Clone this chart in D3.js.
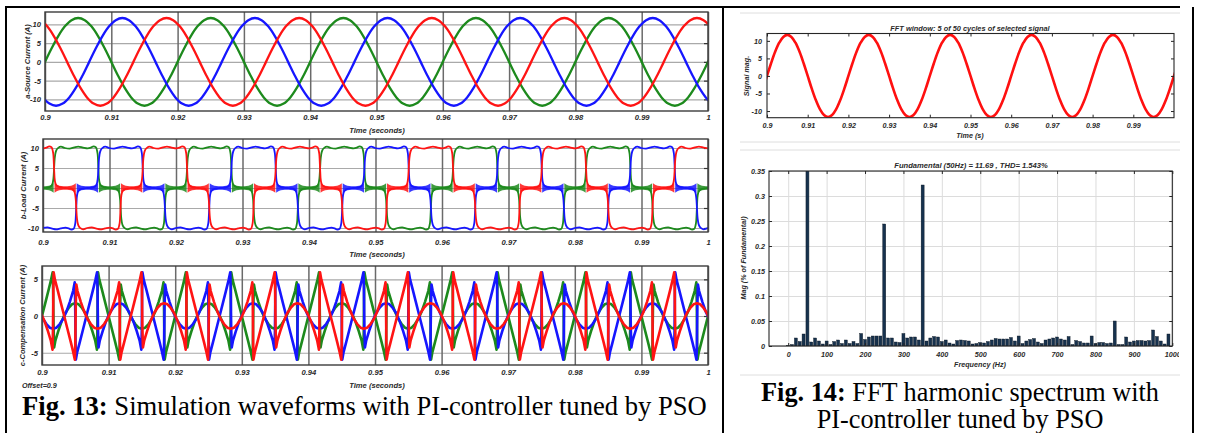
<!DOCTYPE html>
<html><head><meta charset="utf-8">
<script src="https://cdn.jsdelivr.net/npm/d3@7/dist/d3.min.js"></script>
<style>html,body{margin:0;padding:0;background:#fff;}svg{display:block;}</style>
</head><body>
<svg id="chart" width="1211" height="433"></svg>
<script>
// ================= DATA =================
const timeTicks = [0.9,0.91,0.92,0.93,0.94,0.95,0.96,0.97,0.98,0.99,1.0];
const timeTickLabels = ["0.9","0.91","0.92","0.93","0.94","0.95","0.96","0.97","0.98","0.99","1"];
const fftTimeTicks = [0.9,0.91,0.92,0.93,0.94,0.95,0.96,0.97,0.98,0.99];
const fftTimeTickLabels = ["0.9","0.91","0.92","0.93","0.94","0.95","0.96","0.97","0.98","0.99"];
const sourceTicks = [-10,-5,0,5,10];
const loadTicks = [-10,-5,0,5,10];
const compTicks = [-5,0,5];
const signalTicks = [-10,-5,0,5,10];
const magTicks = [0,0.05,0.1,0.15,0.2,0.25,0.3,0.35];
const magTickLabels = ["0","0.05","0.1","0.15","0.2","0.25","0.3","0.35"];
const freqTicks = [0,100,200,300,400,500,600,700,800,900,1000];

// three phases: drawn order, colour, time shift (ms) of the phase-a cycle
const phaseNames = ["a","c","b"];
const phaseColors = ["#1d8a1d","#1616ff","#ff1414"];
const phaseShiftMs = [0, 20/3, -20/3];
const cycleMs = 20;          // 50 Hz
const windowStart = 0.9;

// one cycle of phase-a source current [ms, A]
const sourceCycle = [[0,0],[1,3.62],[2,6.88],[3,9.47],[4,11.13],[5,11.7],[6,11.13],[7,9.47],[8,6.88],[9,3.62],
  [10,0],[11,-3.62],[12,-6.88],[13,-9.47],[14,-11.13],[15,-11.7],[16,-11.13],[17,-9.47],[18,-6.88],[19,-3.62]];

// one cycle of phase-a load current [ms, A]
const loadCycle = [[0,0],[0.7,0.1],[1.1,0.3],[1.35,0.8],[1.5,1.6],[1.6,3.0],[1.67,5],[1.74,7.0],[1.84,8.4],[2.0,9.4],[2.3,10.05],[2.7,10.35],
  [3.3,10.0],[4.0,9.85],[4.7,10.15],[5.3,10.35],[6.0,10.1],[6.7,9.9],[7.2,10.1],[7.6,10.4],[7.95,10.2],[8.12,9.4],[8.24,8.0],
  [8.33,5],[8.41,2.4],[8.53,1.2],[8.8,0.5],[9.3,0.15],[10,0],
  [10.7,-0.1],[11.1,-0.3],[11.35,-0.8],[11.5,-1.6],[11.6,-3.0],[11.67,-5],[11.74,-7.0],[11.84,-8.4],[12.0,-9.4],[12.3,-10.05],[12.7,-10.35],
  [13.3,-10.0],[14.0,-9.85],[14.7,-10.15],[15.3,-10.35],[16.0,-10.1],[16.7,-9.9],[17.2,-10.1],[17.6,-10.4],[17.95,-10.2],[18.12,-9.4],[18.24,-8.0],
  [18.33,-5],[18.41,-2.4],[18.53,-1.2],[18.8,-0.5],[19.3,-0.15]];
// switching-noise envelope of the load current around its zero-current intervals [ms, half-width A]
const loadNoiseSegments = [
  [[8.4,1.2],[8.8,0.75],[9.4,0.5],[10,0.45],[10.6,0.5],[11.2,0.75],[11.6,1.2]],
  [[18.4,1.2],[18.8,0.75],[19.4,0.5],[20,0.45],[20.6,0.5],[21.2,0.75],[21.6,1.2]]
];

// one cycle of phase-a compensation current [ms, A]
const compCycle = [[0,0],[0.5,1.8],[1.0,3.6],[1.35,4.9],[1.6,5.95],[1.66,4.0],[1.74,-1.5],[1.82,-4.3],[2.0,-3.4],[2.5,-1.9],
  [3.0,-0.6],[3.5,0.4],[4.0,1.1],[4.5,1.6],[5.0,1.75],[5.5,1.6],[6.0,1.1],[6.5,0.4],[7.0,-0.6],[7.5,-1.9],[8.0,-3.4],
  [8.25,-4.6],[8.31,-2.0],[8.37,3.5],[8.42,5.95],[8.6,5.0],[9.0,3.6],[9.5,1.8],
  [10,0],[10.5,-1.8],[11,-3.6],[11.35,-4.9],[11.6,-5.95],[11.66,-4.0],[11.74,1.5],[11.82,4.3],[12,3.4],[12.5,1.9],
  [13,0.6],[13.5,-0.4],[14,-1.1],[14.5,-1.6],[15,-1.75],[15.5,-1.6],[16,-1.1],[16.5,-0.4],[17,0.6],[17.5,1.9],[18,3.4],
  [18.25,4.6],[18.31,2.0],[18.37,-3.5],[18.42,-5.95],[18.6,-5.0],[19,-3.6],[19.5,-1.8]];

// FFT spectrum: harmonic bins (Hz) and magnitudes (% of fundamental)
const harmonicFreqs = [0,10,20,30,40,50,60,70,80,90,100,110,120,130,140,150,160,170,180,190,200,
  210,220,230,240,250,260,270,280,290,300,310,320,330,340,350,360,370,380,390,400,
  410,420,430,440,450,460,470,480,490,500,510,520,530,540,550,560,570,580,590,600,
  610,620,630,640,650,660,670,680,690,700,710,720,730,740,750,760,770,780,790,800,
  810,820,830,840,850,860,870,880,890,900,910,920,930,940,950,960,970,980,990,1000];
const harmonicMag = [0.001,0.003,0.016,0.009,0.024,100,0.008,0.016,0.010,0.004,0.010,
  0.003,0.009,0.012,0.005,0.012,0.005,0.009,0.005,0.025,0.013,
  0.018,0.020,0.020,0.020,0.244,0.016,0.016,0.008,0.007,0.025,
  0.016,0.018,0.018,0.012,0.322,0.010,0.016,0.019,0.018,0.009,
  0.012,0.006,0.004,0.011,0.012,0.011,0.010,0.004,0.005,0.007,
  0.006,0.009,0.012,0.015,0.014,0.014,0.014,0.017,0.010,0.020,
  0.005,0.010,0.013,0.015,0.008,0.005,0.012,0.014,0.016,0.018,
  0.014,0.012,0.019,0.003,0.011,0.009,0.006,0.006,0.020,0.005,
  0.007,0.007,0.005,0.006,0.050,0.003,0.003,0.018,0.008,0.010,
  0.011,0.011,0.010,0.011,0.032,0.019,0.010,0.004,0.024,0.000];

// ================= DRAWING =================
const svg = d3.select("#chart");
const defs = svg.append("defs");
const FONT = "Liberation Sans, Arial, Helvetica, sans-serif";
function axText(sel, size){
  sel.attr("font-family",FONT).attr("font-style","italic").attr("font-weight","bold")
     .attr("font-size",size).attr("fill","#2a2a2a");
}
let clipN = 0;
function clip(x0,y0,x1,y1){
  const id = "clp"+(clipN++);
  defs.append("clipPath").attr("id",id).append("rect")
    .attr("x",x0).attr("y",y0).attr("width",x1-x0).attr("height",y1-y0);
  return "url(#"+id+")";
}
// repeat a one-cycle sample list over the window for a given phase shift
function periodic(cycle, shiftMs){
  const pts = [];
  for(let k=-2;k<=7;k++){
    cycle.forEach(([ms,v])=>{
      const t = windowStart + (k*cycleMs + ms + shiftMs)/1000;
      if(t>=windowStart-0.004 && t<=1.004) pts.push([t,v]);
    });
  }
  return pts.sort((a,b)=>a[0]-b[0]);
}

// ---------- left-hand time panels ----------
function timePanel(cfg){
  const x = d3.scaleLinear().domain([0.9,1.0]).range([cfg.left,cfg.right]);
  const y = d3.scaleLinear().domain(cfg.yDomain).range([cfg.bottom,cfg.top]);
  const g = svg.append("g");
  const w = cfg.right-cfg.left, h = cfg.bottom-cfg.top;
  g.append("g").attr("transform",`translate(${cfg.left},0)`)
    .call(d3.axisLeft(y).tickValues(cfg.yTicks).tickSize(-w).tickFormat(""))
    .call(s=>{s.select(".domain").remove(); s.selectAll("line").attr("stroke","#a9a9a9").attr("stroke-width",1.1);});
  g.append("g").attr("transform",`translate(0,${cfg.bottom})`)
    .call(d3.axisBottom(x).tickValues(timeTicks).tickSize(-h).tickFormat(""))
    .call(s=>{s.select(".domain").remove(); s.selectAll("line").attr("stroke","#6a6a6a").attr("stroke-width",1.5);});
  g.append("g").attr("transform",`translate(${cfg.right},0)`)
    .call(d3.axisRight(y).tickValues(cfg.yTicks).tickSize(-4).tickFormat(""))
    .call(s=>{s.select(".domain").remove(); s.selectAll("line").attr("stroke","#333").attr("stroke-width",1.2);});
  const cp = clip(cfg.left,cfg.top,cfg.right,cfg.bottom);
  const curves = g.append("g").attr("clip-path",cp);
  cfg.draw(curves,x,y);
  g.append("rect").attr("x",cfg.left).attr("y",cfg.top).attr("width",w).attr("height",h)
    .attr("fill","none").attr("stroke","#3c3c3c").attr("stroke-width",1.4);
  const ya = g.append("g").attr("transform",`translate(${cfg.left},0)`)
    .call(d3.axisLeft(y).tickValues(cfg.yTicks).tickSize(0).tickPadding(cfg.yPad).tickFormat(d=>String(d)));
  ya.select(".domain").remove(); ya.selectAll("text").call(axText,7.6);
  const xa = g.append("g").attr("transform",`translate(0,${cfg.bottom})`)
    .call(d3.axisBottom(x).tickValues(timeTicks).tickSize(0).tickPadding(cfg.xPad).tickFormat((d,i)=>timeTickLabels[i]));
  xa.select(".domain").remove(); xa.selectAll("text").call(axText,7.6);
  g.append("text").attr("x",377).attr("y",cfg.xLabelY).attr("text-anchor","middle").text("Time (seconds)").call(axText,7.6);
  g.append("text").attr("transform",`translate(${cfg.yLabelX},${(cfg.top+cfg.bottom)/2}) rotate(-90)`)
    .attr("text-anchor","middle").text(cfg.yLabel).call(axText,7.6);
  return {x,y,g};
}

const lineT = (x,y,curve)=>d3.line().x(d=>x(d[0])).y(d=>y(d[1])).curve(curve);

// a) source current
timePanel({left:45,right:708,top:12,bottom:111,yDomain:[-13.1,13.3],yTicks:sourceTicks,
  yPad:4,xPad:4,xLabelY:133,yLabelX:30,yLabel:"a-Source Current (A)",
  draw:(gg,x,y)=>{
    phaseNames.forEach((p,i)=>{
      gg.append("path").attr("d",lineT(x,y,d3.curveCatmullRom)(periodic(sourceCycle,phaseShiftMs[i])))
        .attr("fill","none").attr("stroke",phaseColors[i]).attr("stroke-width",2.3);
    });
  }});

// b) load current
timePanel({left:43,right:708,top:139,bottom:232,yDomain:[-11,12.25],yTicks:loadTicks,
  yPad:4,xPad:8,xLabelY:257,yLabelX:26,yLabel:"b-Load Current (A)",
  draw:(gg,x,y)=>{
    phaseNames.forEach((p,i)=>{
      const area = d3.area().x(d=>x(d[0])).y0(d=>y(-d[1])).y1(d=>y(d[1])).curve(d3.curveMonotoneX);
      for(let k=-2;k<=6;k++){
        loadNoiseSegments.forEach(seg=>{
          const pts = seg.map(([ms,hw])=>[windowStart+(k*cycleMs+ms+phaseShiftMs[i])/1000,hw]);
          if(pts[pts.length-1][0] < 0.895 || pts[0][0] > 1.005) return;
          gg.append("path").attr("d",area(pts)).attr("fill",phaseColors[i]).attr("opacity",0.85);
        });
      }
      gg.append("path").attr("d",lineT(x,y,d3.curveMonotoneX)(periodic(loadCycle,phaseShiftMs[i])))
        .attr("fill","none").attr("stroke",phaseColors[i]).attr("stroke-width",1.8);
    });
  }});

// c) compensation current
timePanel({left:42,right:708,top:266,bottom:365,yDomain:[-6.68,6.82],yTicks:compTicks,
  yPad:4,xPad:5,xLabelY:388,yLabelX:25,yLabel:"c-Compensation Current (A)",
  draw:(gg,x,y)=>{
    phaseNames.forEach((p,i)=>{
      gg.append("path").attr("d",lineT(x,y,d3.curveLinear)(periodic(compCycle,phaseShiftMs[i])))
        .attr("fill","none").attr("stroke",phaseColors[i]).attr("stroke-width",2.6).attr("stroke-linejoin","round");
    });
  }});
svg.append("text").attr("x",22).attr("y",388).text("Offset=0.9").call(axText,7.2);

// ---------- right-hand: FFT window signal ----------
(function(){
  const L=767,R=1174,T=33.5,B=117.7;
  const x = d3.scaleLinear().domain([0.9,1.0]).range([L,R]);
  const y = d3.scaleLinear().domain([-11.9,12.1]).range([B,T]);
  const g = svg.append("g");
  const cp = clip(L,T,R,B);
  g.append("path").attr("clip-path",cp)
    .attr("d",lineT(x,y,d3.curveCatmullRom)(periodic(sourceCycle,0)))
    .attr("fill","none").attr("stroke","#ff1010").attr("stroke-width",2.6);
  g.append("rect").attr("x",L).attr("y",T).attr("width",R-L).attr("height",B-T)
    .attr("fill","none").attr("stroke","#262626").attr("stroke-width",1.1);
  const tk = (axis,tr)=>g.append("g").attr("transform",tr).call(axis)
    .call(s=>{s.select(".domain").remove(); s.selectAll("line").attr("stroke","#262626");});
  tk(d3.axisBottom(x).tickValues(fftTimeTicks).tickSize(-3).tickFormat(""),`translate(0,${B})`);
  tk(d3.axisTop(x).tickValues(fftTimeTicks).tickSize(-3).tickFormat(""),`translate(0,${T})`);
  tk(d3.axisLeft(y).tickValues(signalTicks).tickSize(-3).tickFormat(""),`translate(${L},0)`);
  tk(d3.axisRight(y).tickValues(signalTicks).tickSize(-3).tickFormat(""),`translate(${R},0)`);
  const ya = g.append("g").attr("transform",`translate(${L},0)`)
    .call(d3.axisLeft(y).tickValues(signalTicks).tickSize(0).tickPadding(5).tickFormat(d=>String(d)));
  ya.select(".domain").remove(); ya.selectAll("text").call(axText,7.2);
  const xa = g.append("g").attr("transform",`translate(0,${B})`)
    .call(d3.axisBottom(x).tickValues(fftTimeTicks).tickSize(0).tickPadding(5).tickFormat((d,i)=>fftTimeTickLabels[i]));
  xa.select(".domain").remove(); xa.selectAll("text").call(axText,7.2);
  g.append("text").attr("x",970).attr("y",31).attr("text-anchor","middle")
    .text("FFT window: 5 of 50 cycles of selected signal").call(axText,7.4);
  g.append("text").attr("x",970).attr("y",138).attr("text-anchor","middle").text("Time (s)").call(axText,7.2);
  g.append("text").attr("transform",`translate(749,76) rotate(-90)`).attr("text-anchor","middle")
    .text("Signal mag.").call(axText,7.2);
})();

// ---------- right-hand: FFT spectrum ----------
(function(){
  const L=769,R=1172.3,T=171,B=346;
  const x = d3.scaleLinear().domain([-50,1000]).range([L,R]);
  const y = d3.scaleLinear().domain([0,0.35]).range([B,T]);
  const g = svg.append("g").attr("clip-path",clip(726,140,1179,433));
  g.append("g").attr("transform",`translate(${L},0)`)
    .call(d3.axisLeft(y).tickValues(magTicks).tickSize(-(R-L)).tickFormat(""))
    .call(s=>{s.select(".domain").remove(); s.selectAll("line").attr("stroke","#dcdcdc");});
  g.append("g").attr("transform",`translate(0,${B})`)
    .call(d3.axisBottom(x).tickValues(freqTicks).tickSize(-(B-T)).tickFormat(""))
    .call(s=>{s.select(".domain").remove(); s.selectAll("line").attr("stroke","#dcdcdc");});
  const cp = clip(L,T,R,B);
  g.append("g").attr("clip-path",cp).selectAll("rect").data(harmonicFreqs).join("rect")
    .attr("x",f=>x(f-3.9)).attr("width",f=>x(f+3.9)-x(f-3.9))
    .attr("y",(f,i)=>y(harmonicMag[i])).attr("height",(f,i)=>B-y(harmonicMag[i]))
    .attr("fill","#17324e").attr("stroke","#08131f").attr("stroke-width",0.4);
  g.append("rect").attr("x",L).attr("y",T).attr("width",R-L).attr("height",B-T)
    .attr("fill","none").attr("stroke","#262626").attr("stroke-width",1.1);
  const tk = (axis,tr)=>g.append("g").attr("transform",tr).call(axis)
    .call(s=>{s.select(".domain").remove(); s.selectAll("line").attr("stroke","#262626");});
  tk(d3.axisBottom(x).tickValues(freqTicks).tickSize(-3).tickFormat(""),`translate(0,${B})`);
  tk(d3.axisTop(x).tickValues(freqTicks).tickSize(-3).tickFormat(""),`translate(0,${T})`);
  tk(d3.axisLeft(y).tickValues(magTicks).tickSize(-3).tickFormat(""),`translate(${L},0)`);
  tk(d3.axisRight(y).tickValues(magTicks).tickSize(-3).tickFormat(""),`translate(${R},0)`);
  const ya = g.append("g").attr("transform",`translate(${L},0)`)
    .call(d3.axisLeft(y).tickValues(magTicks).tickSize(0).tickPadding(4).tickFormat((d,i)=>magTickLabels[i]));
  ya.select(".domain").remove(); ya.selectAll("text").call(axText,7.2);
  const xa = g.append("g").attr("transform",`translate(0,${B})`)
    .call(d3.axisBottom(x).tickValues(freqTicks).tickSize(0).tickPadding(6).tickFormat(d=>String(d)));
  xa.select(".domain").remove(); xa.selectAll("text").call(axText,7.2);
  g.append("text").attr("x",971).attr("y",168).attr("text-anchor","middle")
    .text("Fundamental (50Hz) = 11.69 , THD= 1.543%").call(axText,7.6);
  g.append("text").attr("x",980).attr("y",367).attr("text-anchor","middle").text("Frequency (Hz)").call(axText,7.2);
  g.append("text").attr("transform",`translate(746,258) rotate(-90)`).attr("text-anchor","middle")
    .text("Mag (% of Fundamental)").call(axText,7.2);
})();

// ---------- light separators of the FFT tool window ----------
[13,142,150,375].forEach(yy=>{
  svg.append("line").attr("x1",740).attr("x2",1180).attr("y1",yy).attr("y2",yy)
    .attr("stroke","#dedede").attr("stroke-width",1);
});

// ---------- table borders ----------
const border = [[6,7,722,7],[724,7,1180,7],[6,6,6,433],[723,6,723,433],[1193,7,1193,433]];
border.forEach(([x1,y1,x2,y2])=>svg.append("line").attr("x1",x1).attr("y1",y1).attr("x2",x2).attr("y2",y2)
  .attr("stroke","#000").attr("stroke-width",2));

// ---------- captions ----------
function caption(x, y, parts, anchor){
  const t = svg.append("text").attr("x",x).attr("y",y).attr("text-anchor",anchor)
    .attr("font-family","Liberation Serif, Times New Roman, serif").attr("font-size",24).attr("fill","#000");
  parts.forEach(([s,b])=>t.append("tspan").attr("font-weight",b?"bold":"normal").text(s));
  return t;
}
const c13 = caption(22,415,[["Fig. 13:",true],[" Simulation waveforms with PI-controller tuned by PSO",false]],"start");
const f13 = 24*685/c13.node().getComputedTextLength();
c13.attr("font-size",f13);
const c14a = caption(960,401,[["Fig. 14:",true],[" FFT harmonic spectrum with",false]],"middle");
const f14 = 24*398/c14a.node().getComputedTextLength();
c14a.attr("font-size",f14);
caption(960,428,[["PI-controller tuned by PSO",false]],"middle").attr("font-size",f14);
</script></body></html>
